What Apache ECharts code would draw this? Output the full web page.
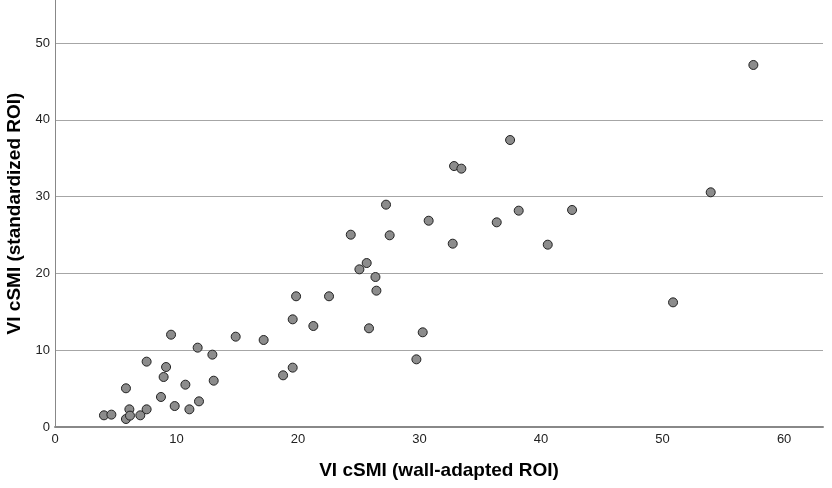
<!DOCTYPE html>
<html>
<head>
<meta charset="utf-8">
<script src="https://cdn.jsdelivr.net/npm/echarts@6/dist/echarts.min.js"></script>
<style>html,body{margin:0;padding:0;background:#fff}#c{width:832px;height:488px}</style>
</head>
<body>
<div id="c"></div>
<script>
var xTitle = 'VI cSMI (wall-adapted ROI)';
var yTitle = 'VI cSMI (standardized ROI)';
var xVals = [4.03,4.64,5.84,5.84,6.12,6.17,7.02,7.54,7.54,8.72,8.94,9.14,9.55,9.85,10.73,11.06,11.74,11.85,12.95,13.06,14.87,17.17,18.77,19.56,19.56,21.26,
  19.84,22.55,24.34,25.05,25.65,25.84,26.37,26.45,27.24,27.54,29.74,30.26,30.75,32.73,
  37.45,32.84,33.44,53.96,36.35,38.16,42.55,40.55,50.86,57.47];
var yVals = [1.52,1.61,5.04,1.04,2.30,1.48,1.52,8.51,2.30,3.91,6.51,7.81,12.02,2.73,5.51,2.30,10.33,3.34,9.42,6.03,11.76,11.33,6.73,14.02,7.73,13.15,
  17.02,17.02,25.04,20.53,21.35,12.85,19.53,17.75,28.95,24.96,8.81,12.33,26.86,23.87,
  37.37,33.98,33.64,30.56,26.65,28.17,28.26,23.74,16.23,47.14];
var xTicks = [0,10,20,30,40,50,60];
var yTicks = [0,10,20,30,40,50];

var pts = xVals.map(function(x,i){return [x,yVals[i]];});
var font = 'Liberation Sans, Arial, sans-serif';
var chart = echarts.init(document.getElementById('c'));
chart.setOption({
  animation:false,
  backgroundColor:'#fff',
  grid:{left:55,right:9,top:0,bottom:61,containLabel:false,outerBoundsMode:'none'},
  xAxis:{
    type:'value',min:0,max:63.2,interval:10,
    name:xTitle,nameLocation:'middle',nameGap:34,
    nameTextStyle:{fontFamily:font,fontSize:19,fontWeight:'bold',color:'#000'},
    axisLine:{show:true,lineStyle:{color:'#888',width:2}},
    axisTick:{show:false},
    splitLine:{show:false},
    axisLabel:{fontFamily:font,fontSize:13,color:'#222',margin:6,showMaxLabel:false,
      formatter:function(v){return xTicks.indexOf(v)>=0?String(v):'';}}
  },
  yAxis:{
    type:'value',min:0,max:55.6,interval:10,
    name:yTitle,nameLocation:'middle',nameGap:31,nameRotate:90,
    nameTextStyle:{fontFamily:font,fontSize:19,fontWeight:'bold',color:'#000'},
    axisLine:{show:true,lineStyle:{color:'#888',width:1}},
    axisTick:{show:false},
    splitLine:{show:true,showMinLine:false,showMaxLine:false,lineStyle:{color:'#a6a6a6',width:1}},
    axisLabel:{fontFamily:font,fontSize:13,color:'#222',margin:5,showMaxLabel:false,
      formatter:function(v){return yTicks.indexOf(v)>=0?String(v):'';}}
  },
  series:[{
    type:'scatter',data:pts,symbol:'circle',symbolSize:9,
    itemStyle:{color:'#8c8c8c',borderColor:'#222',borderWidth:1,opacity:1}
  }]
});
</script>
</body>
</html>
